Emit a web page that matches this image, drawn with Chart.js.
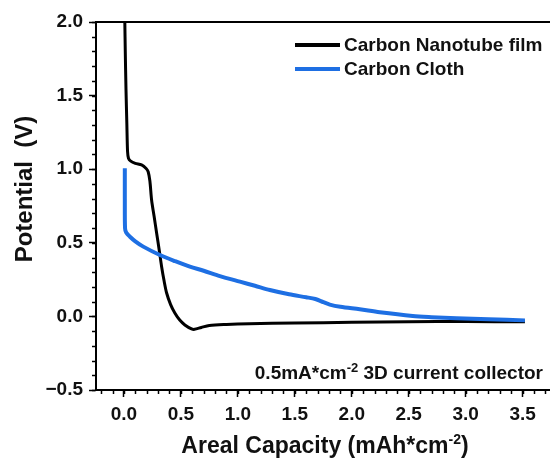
<!DOCTYPE html>
<html>
<head>
<meta charset="utf-8">
<script src="https://cdn.jsdelivr.net/npm/chart.js@4.4.0/dist/chart.umd.min.js"></script>
<style>
  html, body { margin: 0; padding: 0; background: #fff; }
  #wrap { width: 550px; height: 464px; position: relative; }
</style>
</head>
<body>
<div id="wrap"><canvas id="potentialChart"></canvas></div>
<script>
// Carbon nanotube film (black)
const cntCapacity = [0.008, 0.012, 0.018, 0.026, 0.032, 0.04, 0.06, 0.1, 0.155, 0.195, 0.213, 0.228, 0.243, 0.265, 0.287, 0.31, 0.331, 0.353, 0.375, 0.41, 0.447, 0.49, 0.535, 0.594, 0.62, 0.68, 0.75, 0.9, 1.1, 1.5, 2.0, 2.5, 3.0, 3.52];
const cntPotential = [2.0, 1.8, 1.55, 1.3, 1.12, 1.075, 1.055, 1.04, 1.029, 1.005, 0.983, 0.92, 0.791, 0.68, 0.567, 0.45, 0.338, 0.24, 0.159, 0.08, 0.023, -0.025, -0.058, -0.085, -0.088, -0.075, -0.062, -0.055, -0.05, -0.045, -0.04, -0.036, -0.035, -0.037];

// Carbon cloth (blue)
const clothCapacity = [0.008, 0.008, 0.01, 0.02, 0.053, 0.1, 0.17, 0.316, 0.45, 0.579, 0.7, 0.842, 1.018, 1.15, 1.281, 1.45, 1.6, 1.68, 1.75, 1.807, 1.9, 2.07, 2.246, 2.535, 2.7, 2.92, 3.2, 3.52];
const clothPotential = [1.006, 0.8, 0.599, 0.57, 0.541, 0.51, 0.474, 0.417, 0.375, 0.338, 0.31, 0.274, 0.236, 0.208, 0.179, 0.15, 0.13, 0.118, 0.097, 0.08, 0.065, 0.048, 0.028, 0.003, -0.005, -0.013, -0.02, -0.027];

const seriesLabels = ['Carbon Nanotube film', 'Carbon Cloth'];
const xTicks = [0, 0.5, 1.0, 1.5, 2.0, 2.5, 3.0, 3.5];
const yTicks = [-0.5, 0, 0.5, 1.0, 1.5, 2.0];

const FONT = '"Liberation Sans", Arial, sans-serif';
const BLUE = '#1e6fe3';

function toPoints(xs, ys) {
    return xs.map((x, i) => ({ x: x, y: ys[i] }));
}

// draw a run of [text, size, raise] pieces starting at x
function drawPieces(ctx, pieces, x, y) {
    pieces.forEach(p => {
        ctx.font = 'bold ' + p[1] + 'px ' + FONT;
        ctx.fillText(p[0], x, y + p[2]);
        x += ctx.measureText(p[0]).width;
    });
}

function piecesWidth(ctx, pieces) {
    let w = 0;
    pieces.forEach(p => { ctx.font = 'bold ' + p[1] + 'px ' + FONT; w += ctx.measureText(p[0]).width; });
    return w;
}

// minor ticks, top border, legend, note and axis titles
const decorations = {
    id: 'decorations',
    afterDraw(chart) {
        const ctx = chart.ctx;
        const area = chart.chartArea;
        const xs = chart.scales.x;
        const ys = chart.scales.y;
        ctx.save();
        ctx.strokeStyle = '#000';
        ctx.lineWidth = 1.5;

        // minor ticks every 0.1
        for (let v = -0.2; v <= 3.75; v += 0.1) {
            const px = Math.round(xs.getPixelForValue(v)) + 0.5;
            ctx.beginPath();
            ctx.moveTo(px, area.bottom);
            ctx.lineTo(px, area.bottom + 4);
            ctx.stroke();
        }
        for (let v = -0.5; v <= 2.0001; v += 0.1) {
            const py = Math.round(ys.getPixelForValue(v)) + 0.5;
            ctx.beginPath();
            ctx.moveTo(area.left, py);
            ctx.lineTo(area.left - 4, py);
            ctx.stroke();
        }

        // top frame line
        ctx.lineWidth = 2;
        ctx.beginPath();
        ctx.moveTo(area.left - 1, area.top);
        ctx.lineTo(area.right, area.top);
        ctx.stroke();

        // legend
        const colors = ['#000', BLUE];
        ctx.font = 'bold 19px ' + FONT;
        ctx.textBaseline = 'middle';
        ctx.textAlign = 'left';
        seriesLabels.forEach((label, i) => {
            const y = 45 + i * 24;
            ctx.strokeStyle = colors[i];
            ctx.lineWidth = 4;
            ctx.beginPath();
            ctx.moveTo(295, y);
            ctx.lineTo(340, y);
            ctx.stroke();
            ctx.fillStyle = '#111';
            ctx.font = 'bold 19px ' + FONT;
            ctx.fillText(label, 344, y + 1);
        });

        // condition note, right aligned inside the plot
        ctx.textBaseline = 'alphabetic';
        const note = [['0.5mA*cm', 19, 0], ['-2', 13, -7], [' 3D current collector', 19, 0]];
        drawPieces(ctx, note, area.right - 7 - piecesWidth(ctx, note), 379);

        // x axis title with superscript
        const xt = [['Areal Capacity (mAh*cm', 23, 0], ['-2', 14, -9], [')', 23, 0]];
        drawPieces(ctx, xt, (area.left + area.right) / 2 + 2 - piecesWidth(ctx, xt) / 2, 453);

        // y axis title
        ctx.translate(25, 189);
        ctx.rotate(-Math.PI / 2);
        ctx.textAlign = 'center';
        ctx.textBaseline = 'middle';
        ctx.font = 'bold 24px ' + FONT;
        ctx.fillText('Potential  (V)', 0, 0);
        ctx.restore();
    }
};

new Chart(document.getElementById('potentialChart'), {
    type: 'line',
    data: {
        datasets: [{
            label: seriesLabels[0],
            data: toPoints(cntCapacity, cntPotential),
            borderColor: '#000',
            borderWidth: 3,
            pointRadius: 0,
            tension: 0.3,
            order: 1
        }, {
            label: seriesLabels[1],
            data: toPoints(clothCapacity, clothPotential),
            borderColor: BLUE,
            borderWidth: 4,
            pointRadius: 0,
            tension: 0.3,
            order: 0
        }]
    },
    options: {
        responsive: true,
        maintainAspectRatio: false,
        animation: false,
        layout: { padding: { top: 22, right: 0, left: 0, bottom: 0 } },
        plugins: {
            legend: { display: false },
            tooltip: { enabled: false }
        },
        scales: {
            x: {
                type: 'linear',
                min: -0.245,
                max: 3.74,
                afterBuildTicks: scale => { scale.ticks = xTicks.map(v => ({ value: v })); },
                afterFit: scale => { scale.height = 74; },
                border: { display: true, color: '#000', width: 2 },
                grid: { drawOnChartArea: false, color: '#000', tickLength: 7, tickWidth: 1.5 },
                ticks: {
                    color: '#111',
                    padding: 6,
                    maxRotation: 0,
                    font: { family: FONT, size: 19, weight: 'bold' },
                    callback: v => v.toFixed(1)
                }
            },
            y: {
                type: 'linear',
                min: -0.5,
                max: 2.0,
                afterBuildTicks: scale => { scale.ticks = yTicks.map(v => ({ value: v })); },
                afterFit: scale => { scale.width = 96; },
                border: { display: true, color: '#000', width: 2 },
                grid: { drawOnChartArea: false, color: '#000', tickLength: 7, tickWidth: 1.5 },
                ticks: {
                    color: '#111',
                    padding: 6,
                    font: { family: FONT, size: 19, weight: 'bold' },
                    callback: v => v.toFixed(1).replace('-', '\u2212')
                }
            }
        }
    },
    plugins: [decorations]
});
</script>
</body>
</html>
